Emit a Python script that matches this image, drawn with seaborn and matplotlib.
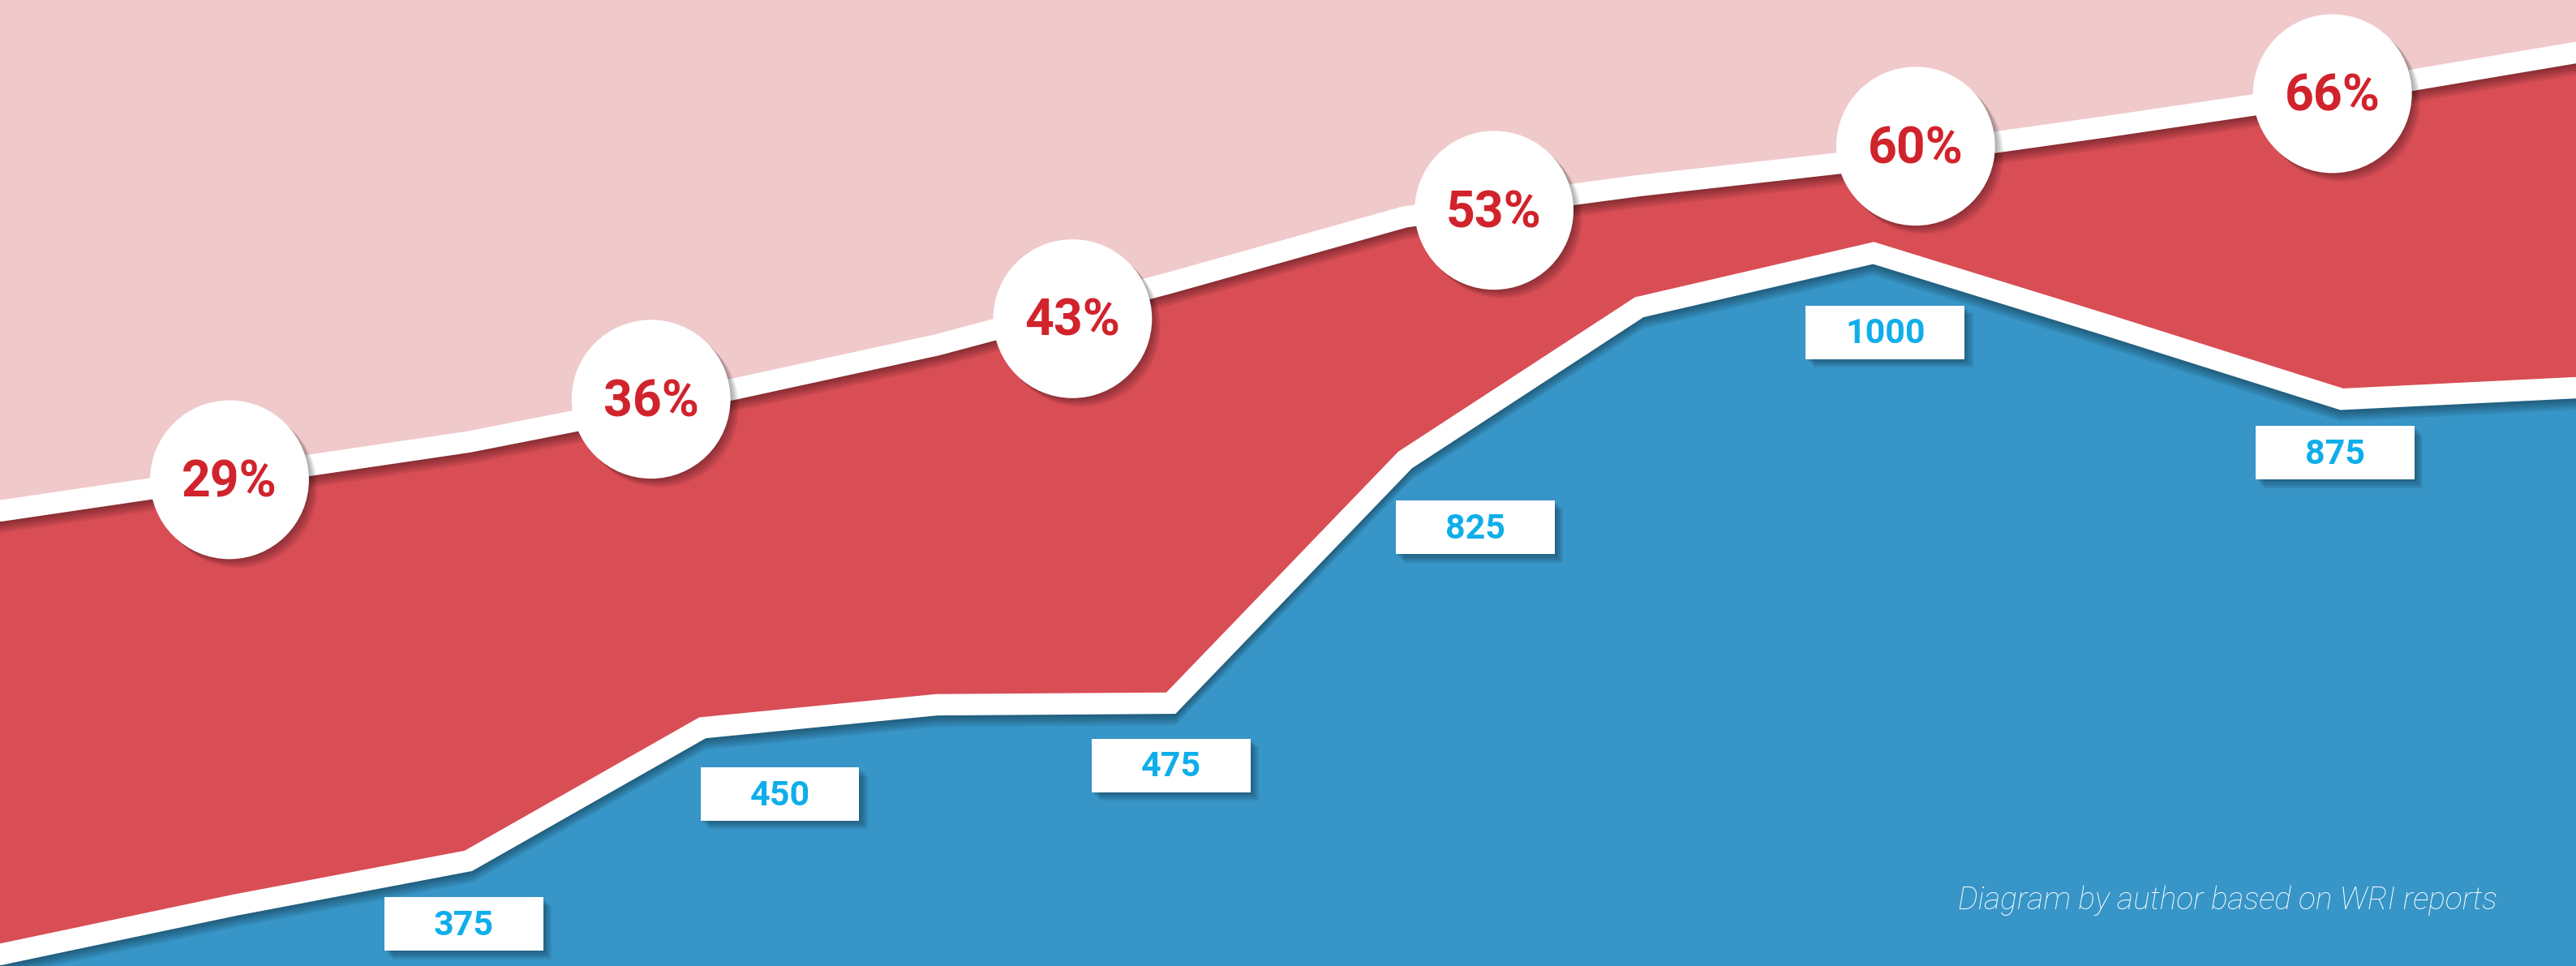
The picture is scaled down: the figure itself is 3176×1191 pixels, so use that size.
import numpy as np
import matplotlib
matplotlib.use("Agg")
import matplotlib.pyplot as plt
import matplotlib.patheffects as pe
import seaborn as sns

# boundary heights (0 = bottom edge, 588 = top edge)
steps = np.arange(12)
upper_line = [277, 298, 319, 347, 378, 416, 456, 475, 491, 511, 532, 556]
lower_line = [7, 37, 64, 145, 159, 160, 308, 401, 434, 390, 345, 352]

pct_labels = ["29%", "36%", "43%", "53%", "60%", "66%"]
value_labels = ["375", "450", "475", "825", "1000", "875"]

# layout: where the badges and boxes sit
badge_x = [0.98, 2.78, 4.58, 6.38, 8.18, 9.96]
badge_h = [296, 345, 394, 460, 499, 531]
box_x = [1.98, 3.33, 5.0, 6.3, 8.05, 9.97]
box_drop = [38, 45, 38, 69, 46, 34]

pink = "#f0c9cb"
red = "#d94d55"
blue = "#3795c7"
red_text = "#d1232c"
blue_text = "#0faeea"

sns.set_theme(style="white")
plt.rcParams["font.family"] = ["Roboto", "DejaVu Sans"]

fig = plt.figure(figsize=(31.76, 11.91), dpi=100)
fig.patch.set_facecolor(pink)
ax = fig.add_axes([0, 0, 1, 1])
ax.set_xlim(0, 11)
ax.set_ylim(0, 588)
ax.axis("off")

# areas
ax.fill_between(steps, 0, upper_line, color=red, linewidth=0, zorder=1)
ax.fill_between(steps, 0, lower_line, color=blue, linewidth=0, zorder=2)

# soft drop shadows
line_shadow = [pe.SimpleLineShadow(offset=(0, -k), shadow_color="black", alpha=0.08)
               for k in (2, 4, 6, 8, 10)] + [pe.Normal()]
patch_shadow = [pe.SimplePatchShadow(offset=(k, -k), shadow_rgbFace="black", alpha=0.07)
                for k in (1.5, 3, 4.5, 6, 7.5)] + [pe.Normal()]

# white boundary lines
sns.lineplot(x=steps, y=upper_line, color="white", linewidth=19, ax=ax,
             path_effects=line_shadow, solid_joinstyle="miter", zorder=3)
sns.lineplot(x=steps, y=lower_line, color="white", linewidth=19, ax=ax,
             path_effects=line_shadow, solid_joinstyle="miter", zorder=3)

# percentage circles
sns.scatterplot(x=badge_x, y=badge_h, s=141 ** 2, color="white", edgecolor="none",
                linewidth=0, ax=ax, path_effects=patch_shadow, zorder=5, legend=False)
for x, y, lab in zip(badge_x, badge_h, pct_labels):
    ax.text(x, y - 2, lab, ha="center", va="center", fontsize=45,
            fontweight="bold", color=red_text, zorder=6)

# value boxes
box = [(-98, -33), (98, -33), (98, 33), (-98, 33), (-98, -33)]
box_h = np.interp(box_x, steps, lower_line) - np.array(box_drop)
sns.scatterplot(x=box_x, y=box_h, s=141 ** 2, marker=box, color="white",
                edgecolor="none", linewidth=0, ax=ax, path_effects=patch_shadow,
                zorder=5, legend=False)
for x, y, lab in zip(box_x, box_h, value_labels):
    ax.text(x, y - 1, lab, ha="center", va="center", fontsize=31,
            fontweight="bold", color=blue_text, zorder=6)

fig.text(0.9694, 0.068, "Diagram by author based on WRI reports", ha="right",
         va="center", color="white", fontsize=28, fontstyle="italic",
         fontweight="light")

fig.savefig("out.png", dpi=100, facecolor=pink)
